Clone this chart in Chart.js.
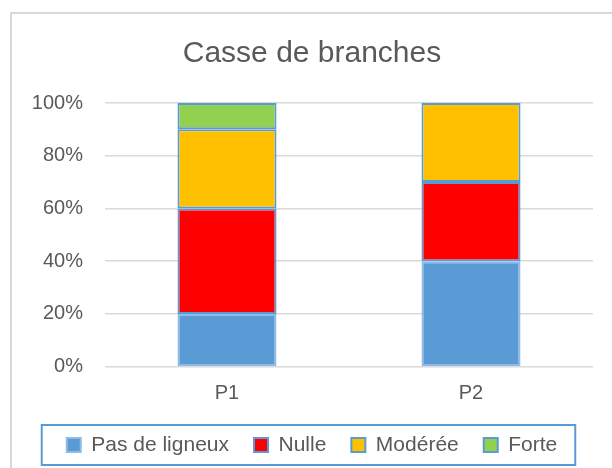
<!DOCTYPE html>
<html><head><meta charset="utf-8">
<script src="https://cdn.jsdelivr.net/npm/chart.js@4"></script>
<style>html,body{margin:0;padding:0;background:#fff;}#wrap{width:612px;height:468px;position:relative;}</style>
</head><body><div id="wrap"><canvas id="c" width="612" height="468"></canvas></div>
<script>
const categories = ['P1', 'P2'];
const seriesNames = ['Pas de ligneux', 'Nulle', 'Modérée', 'Forte'];
const pasDeLigneux = [20, 40];
const nulle = [40, 30];
const moderee = [30, 30];
const forte = [10, 0];
const yTickValues = [0, 20, 40, 60, 80, 100];
const chartTitle = 'Casse de branches';

const FONT = '"Liberation Sans", Arial, sans-serif';
const TEXT = '#595959';
const OUTLINE = '#5B9BD5';

const decor = {
  id: 'decor',
  beforeDraw(chart) {
    const ctx = chart.ctx;
    ctx.save();
    ctx.fillStyle = '#fff';
    ctx.fillRect(0, 0, chart.width, chart.height);
    ctx.strokeStyle = '#d9d9d9';
    ctx.lineWidth = 2;
    ctx.beginPath();
    ctx.moveTo(11, chart.height);
    ctx.lineTo(11, 13);
    ctx.lineTo(chart.width, 13);
    ctx.stroke();
    ctx.restore();
  },
  afterDraw(chart) {
    const lg = chart.legend;
    const hb = lg.legendHitBoxes;
    if (!hb || !hb.length) return;
    const ctx = chart.ctx;
    const l = Math.min(...hb.map(h => h.left)) - 25;
    const r = Math.max(...hb.map(h => h.left + h.width)) + 18;
    const cy = hb[0].top + hb[0].height / 2;
    ctx.save();
    ctx.strokeStyle = OUTLINE;
    ctx.lineWidth = 2;
    ctx.strokeRect(l, cy - 20, r - l, 40);
    ctx.restore();
  }
};

const seriesData = [pasDeLigneux, nulle, moderee, forte];
const fills = ['#5B9BD5', '#FF0000', '#FFC000', '#92D050'];
const borders = ['#8FBBE6', OUTLINE, OUTLINE, OUTLINE];

new Chart(document.getElementById('c'), {
  type: 'bar',
  data: {
    labels: categories,
    datasets: seriesNames.map((n, i) => ({
      label: n,
      data: seriesData[i],
      backgroundColor: fills[i],
      borderColor: borders[i],
      borderWidth: 2,
      borderSkipped: false,
      barPercentage: 0.406,
      categoryPercentage: 1
    }))
  },
  options: {
    responsive: false,
    animation: false,
    devicePixelRatio: 1,
    layout: { padding: { left: 31, right: 19, top: 0, bottom: 2.5 } },
    plugins: {
      title: {
        display: true,
        text: chartTitle,
        color: TEXT,
        font: { family: FONT, size: 30, weight: 'normal' },
        padding: { top: 36, bottom: 31 }
      },
      legend: {
        position: 'bottom',
        labels: {
          color: TEXT,
          font: { family: FONT, size: 21 },
          boxWidth: 14,
          boxHeight: 14,
          padding: 25
        }
      },
      tooltip: { enabled: false }
    },
    scales: {
      x: {
        stacked: true,
        grid: { display: false, drawTicks: false },
        border: { display: false },
        ticks: { color: TEXT, font: { family: FONT, size: 20 }, padding: 15 },
        afterFit(s) { s.height = 42.8; }
      },
      y: {
        stacked: true,
        min: 0,
        max: 100,
        afterBuildTicks(s) { s.ticks = yTickValues.map(v => ({ value: v })); },
        grid: { color: '#d9d9d9', lineWidth: 1.5, drawTicks: false },
        border: { display: false },
        ticks: { color: TEXT, font: { family: FONT, size: 20 }, padding: 22, callback: v => v + '%' },
        afterFit(s) { s.width = 74; }
      }
    }
  },
  plugins: [decor]
});
</script>
</body></html>
